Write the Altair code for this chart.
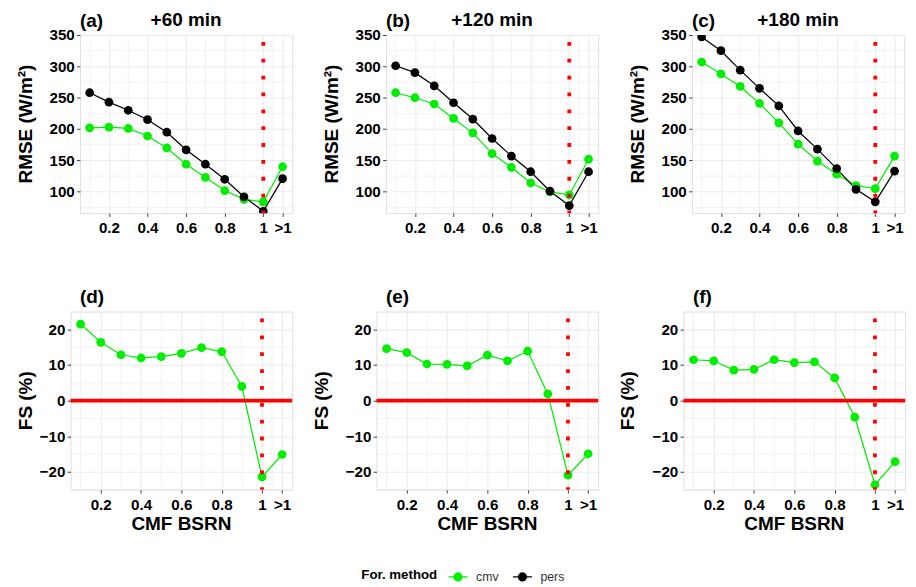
import altair as alt
import pandas as pd

# ---------------- data ----------------
cmf = [0.1, 0.2, 0.3, 0.4, 0.5, 0.6, 0.7, 0.8, 0.9, 1.0, 1.1]   # 1.1 stands for ">1"

rmse60_cmv = [202, 203, 201, 189, 170, 144, 123, 102, 88, 84, 140]
rmse60_pers = [258, 243, 230, 215, 195, 167, 144, 120, 92, 69, 121]
rmse120_cmv = [258, 250, 240, 217, 194, 161, 139, 114, 100, 95, 152]
rmse120_pers = [301, 290, 269, 242, 216, 185, 157, 132, 101, 78, 132]
rmse180_cmv = [307, 288, 268, 241, 210, 176, 149, 128, 110, 105, 157]
rmse180_pers = [347, 325, 294, 265, 237, 197, 168, 137, 104, 84, 133]

fs60_cmv = [21.5, 16.4, 12.9, 12.0, 12.4, 13.3, 14.9, 13.8, 4.0, -21.4, -15.1]
fs120_cmv = [14.6, 13.5, 10.3, 10.2, 9.8, 12.8, 11.2, 13.9, 1.9, -20.9, -14.9]
fs180_cmv = [11.5, 11.2, 8.6, 8.8, 11.5, 10.7, 10.9, 6.4, -4.6, -23.6, -17.1]

methods = ["cmv", "pers"]
method_colors = ["#00ee00", "#000000"]
panel_labels = ["(a)", "(b)", "(c)", "(d)", "(e)", "(f)"]
lead_times = ["+60 min", "+120 min", "+180 min"]
y_titles = ["RMSE (W/m²)", "FS (%)"]
x_title = "CMF BSRN"

x_major = [0.2, 0.4, 0.6, 0.8, 1.0, 1.1]
x_minor = [0.1, 0.3, 0.5, 0.7, 0.9, 1.05]
rmse_major = [100, 150, 200, 250, 300, 350]
rmse_minor = [75, 125, 175, 225, 275, 325]
fs_major = [-20, -10, 0, 10, 20]
fs_minor = [-25, -15, -5, 5, 15, 25]
vline_at = [1.0]
hline_at = [0]

FONT = "Liberation Sans"
X_DOMAIN = [0.05, 1.15]
RMSE_DOMAIN = [66, 350]
FS_DOMAIN = [-25, 25]
H = 188

color_enc = alt.Color(
    "method:N",
    scale=alt.Scale(domain=methods, range=method_colors),
    legend=alt.Legend(
        title="For. method",
        orient="none",
        legendX=384,
        legendY=561,
        direction="horizontal",
        titleOrient="left",
        titleFontSize=14,
        titleFont=FONT,
        titleFontWeight="bold",
        titleColor="#000000",
        titlePadding=10,
        labelFontSize=13,
        labelFont=FONT,
        labelColor="#333333",
        labelOffset=8,
        columnPadding=12,
        symbolType="M-1,0L1,0M-0.42,0A0.42,0.42 0 1 0 0.42,0A0.42,0.42 0 1 0 -0.42,0",
        symbolSize=400,
        symbolStrokeWidth=1.3,
        symbolOpacity=1,
    ),
)


def text_layer(txt, **kw):
    enc = {k: v for k, v in kw.items() if k in ("x", "y")}
    mk = {k: v for k, v in kw.items() if k not in ("x", "y")}
    return alt.Chart(pd.DataFrame({"t": [txt]})).mark_text(
        font=FONT, fontWeight="bold", color="#000000", clip=False, **mk
    ).encode(text="t:N", **enc)


def build_panel(xs, series, ydomain, ymajor, yminor, ytitle, ytitle_dx, label, label_dx,
                top_title, width, show_xtitle, zero_line):
    rows = []
    for m, vals in series:
        for xv, yv in zip(xs, vals):
            rows.append({"cmf": xv, "val": yv, "method": m})
    df = pd.DataFrame(rows)

    xscale = alt.Scale(domain=X_DOMAIN, nice=False, zero=False)
    yscale = alt.Scale(domain=ydomain, nice=False, zero=False)

    x_axis = alt.Axis(
        title=None, values=x_major,
        labelExpr="datum.value > 1.05 ? '>1' : (datum.value == 1 ? '1' : format(datum.value, '.1f'))",
        grid=True, gridColor="#ebebeb", gridWidth=1.1,
        domain=False, ticks=True, tickColor="#333333", tickSize=3.5, tickWidth=1,
        labelFont=FONT, labelFontSize=16, labelFontWeight="bold", labelColor="#000000",
        labelPadding=4, labelFlush=False, labelOverlap=False,
    )
    y_axis = alt.Axis(
        title=None, values=ymajor,
        grid=True, gridColor="#ebebeb", gridWidth=1.1,
        domain=False, ticks=True, tickColor="#333333", tickSize=3.5, tickWidth=1,
        labelFont=FONT, labelFontSize=16, labelFontWeight="bold", labelColor="#000000",
        labelPadding=2.5, labelFlush=False,
    )

    X = alt.X("cmf:Q", scale=xscale, axis=x_axis)
    Y = alt.Y("val:Q", scale=yscale, axis=y_axis)

    base = alt.Chart(df).encode(x=X, y=Y, color=color_enc)
    lines = base.mark_line(strokeWidth=1.3, clip=True)
    points = base.mark_circle(size=85, opacity=1, clip=True)

    vminor = alt.Chart(pd.DataFrame({"cmf": x_minor})).mark_rule(
        color="#ebebeb", strokeWidth=0.7
    ).encode(x=X)
    hminor = alt.Chart(pd.DataFrame({"val": yminor})).mark_rule(
        color="#ebebeb", strokeWidth=0.7
    ).encode(y=Y)

    vline = alt.Chart(pd.DataFrame({"cmf": vline_at})).mark_rule(
        color="#ff0000", strokeWidth=4, strokeDash=[4, 13.8], strokeDashOffset=10.5
    ).encode(x=X)

    layers = [vminor, hminor, lines, points]
    if zero_line:
        hline = alt.Chart(pd.DataFrame({"val": hline_at})).mark_rule(
            color="#ff0000", strokeWidth=4
        ).encode(y=Y)
        layers.append(hline)
    layers.append(vline)

    layers.append(text_layer(label, fontSize=20, align="left", baseline="alphabetic",
                             x=alt.value(label_dx), y=alt.value(-9)))
    if top_title:
        layers.append(text_layer(top_title, fontSize=20, align="center", baseline="alphabetic",
                                 x=alt.value(width / 2), y=alt.value(-10)))
    layers.append(text_layer(ytitle, fontSize=20, align="center", baseline="bottom", angle=270,
                             x=alt.value(ytitle_dx), y=alt.value(H / 2)))
    if show_xtitle:
        layers.append(text_layer(x_title, fontSize=20, align="center", baseline="top",
                                 x=alt.value(width / 2), y=alt.value(H + 26)))

    return alt.layer(*layers).properties(width=width, height=H)


def spacer():
    # empty, invisible cell that lets the two rows start at different x offsets
    return alt.Chart(pd.DataFrame({"t": [""]})).mark_text().encode(
        text="t:N"
    ).properties(width=1, height=1, view=alt.ViewBackground(strokeOpacity=0))


TOP_W = 224
BOT_W = 234

pa = build_panel(cmf, [("cmv", rmse60_cmv), ("pers", rmse60_pers)], RMSE_DOMAIN, rmse_major,
                 rmse_minor, y_titles[0], -47, panel_labels[0], 0, lead_times[0], TOP_W, False, False)
pb = build_panel(cmf, [("cmv", rmse120_cmv), ("pers", rmse120_pers)], RMSE_DOMAIN, rmse_major,
                 rmse_minor, y_titles[0], -47, panel_labels[1], 0, lead_times[1], TOP_W, False, False)
pc = build_panel(cmf, [("cmv", rmse180_cmv), ("pers", rmse180_pers)], RMSE_DOMAIN, rmse_major,
                 rmse_minor, y_titles[0], -47, panel_labels[2], 0, lead_times[2], TOP_W, False, False)

pd_ = build_panel(cmf, [("cmv", fs60_cmv)], FS_DOMAIN, fs_major, fs_minor, y_titles[1], -37,
                  panel_labels[3], 10, None, BOT_W, True, True)
pe = build_panel(cmf, [("cmv", fs120_cmv)], FS_DOMAIN, fs_major, fs_minor, y_titles[1], -47,
                 panel_labels[4], 10, None, BOT_W, True, True)
pf = build_panel(cmf, [("cmv", fs180_cmv)], FS_DOMAIN, fs_major, fs_minor, y_titles[1], -48,
                 panel_labels[5], 10, None, BOT_W, True, True)

chart = alt.concat(
    spacer(), pa, pb, pc, spacer(), pd_, pe, pf, columns=4, align="none",
    spacing={"row": 54, "column": 18},
).properties(
    padding={"left": -11, "top": -15, "right": 0, "bottom": 4}
).configure_view(
    stroke="#333333", strokeWidth=1
).configure(background="#ffffff")

chart.save("out.html", embed_options={"renderer": "svg", "actions": False})
